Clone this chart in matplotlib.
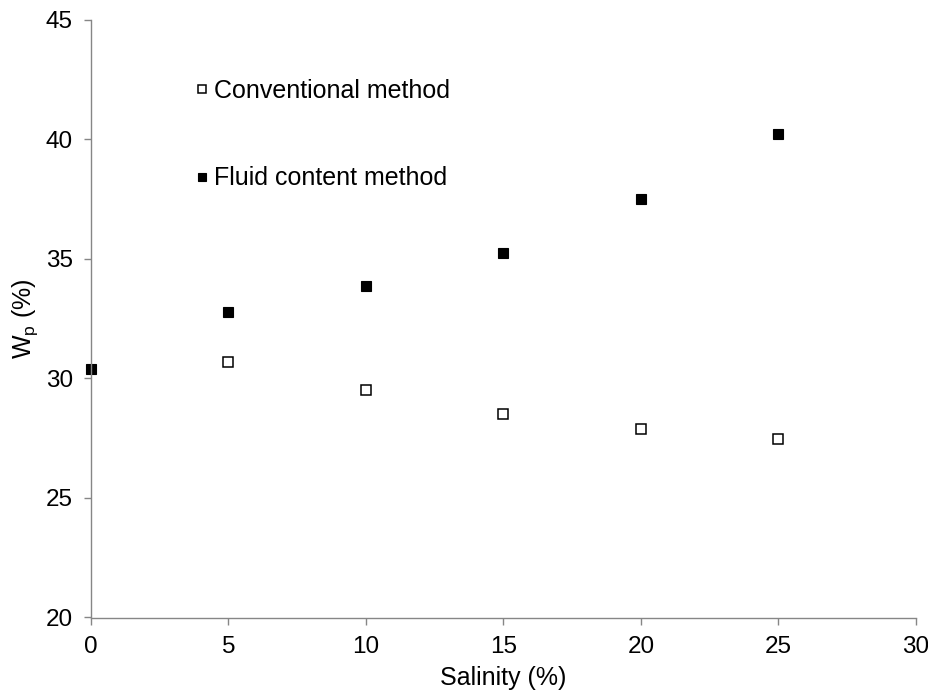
import matplotlib
matplotlib.use("Agg")
import matplotlib.pyplot as plt

plt.rcParams['font.family'] = ['Liberation Sans', 'DejaVu Sans']

salinity_conv = [5, 10, 15, 20, 25]
wp_conv = [30.7, 29.5, 28.5, 27.9, 27.45]

salinity_fluid = [0, 5, 10, 15, 20, 25]
wp_fluid = [30.4, 32.8, 33.85, 35.25, 37.5, 40.25]

x_ticks = [0, 5, 10, 15, 20, 25, 30]
y_ticks = [20, 25, 30, 35, 40, 45]

fig = plt.figure(figsize=(9.29, 6.96), dpi=100)
ax = fig.add_axes([91 / 929, 1 - 617.5 / 696, (916 - 91) / 929, (617.5 - 20) / 696])

ax.plot(salinity_conv, wp_conv, 's', ms=6.5, mfc='white', mec='black', mew=1.1,
        label='Conventional method', clip_on=False)
ax.plot(salinity_fluid, wp_fluid, 's', ms=6.8, mfc='black', mec='black', mew=0.8,
        label='Fluid content method', clip_on=False)

ax.set_xlim(0, 30)
ax.set_ylim(20, 45)
ax.set_xticks(x_ticks)
ax.set_yticks(y_ticks)

for side in ['top', 'right']:
    ax.spines[side].set_visible(False)
for side in ['left', 'bottom']:
    ax.spines[side].set_color('#868686')
    ax.spines[side].set_linewidth(1.0)
ax.tick_params(axis='both', colors='#868686', labelcolor='black', labelsize=17.5,
               length=5, width=1.0, direction='out', pad=8)

ax.set_xlabel('Salinity (%)', fontsize=18, labelpad=6)
ax.set_ylabel('W$_\\mathregular{p}$ (%)', fontsize=18, labelpad=4)

ax.legend(loc='upper left', bbox_to_anchor=(0.11, 0.923), frameon=False, fontsize=18,
          handlelength=0.6, handletextpad=0.2, labelspacing=2.55, borderpad=0,
          markerscale=0.95)

fig.savefig('out.png', dpi=100)
